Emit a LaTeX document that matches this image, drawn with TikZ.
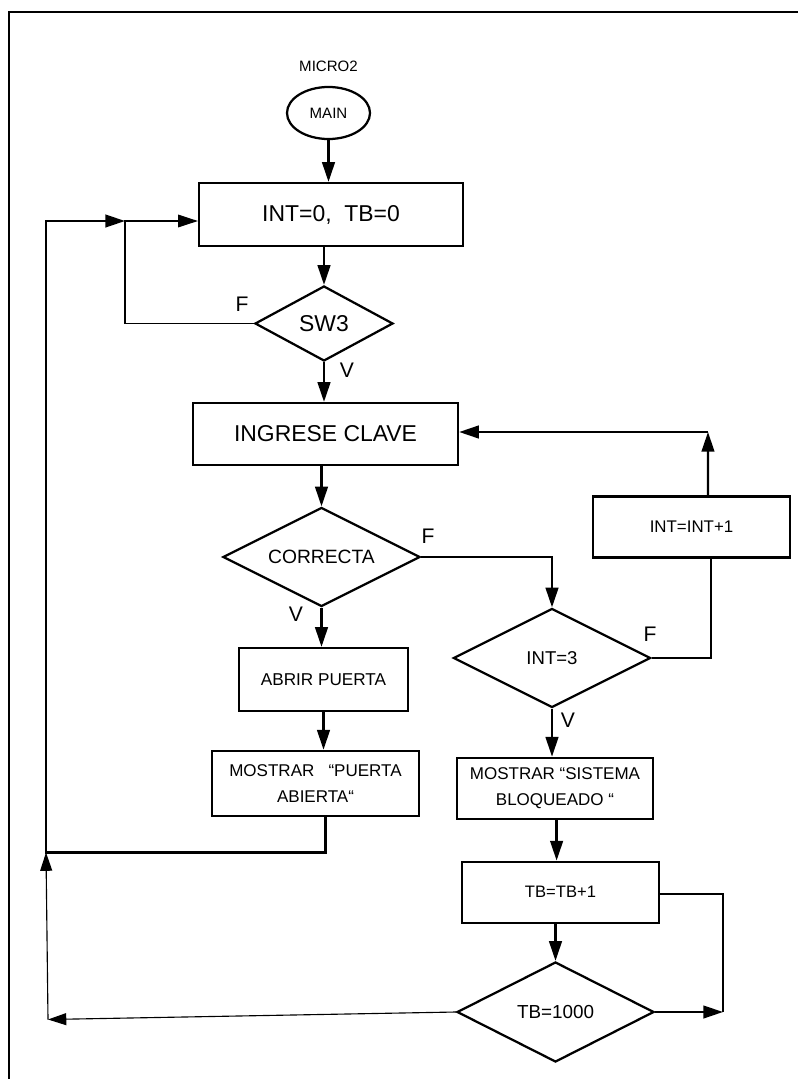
\documentclass[tikz,border=0pt]{standalone}
\usepackage{fontspec}
\setmainfont{Liberation Sans}
\usetikzlibrary{shapes.geometric}
\usetikzlibrary{arrows.meta}
\usetikzlibrary{positioning}

\begin{document}
\begin{tikzpicture}[x=0.025cm,y=-0.025cm,
  box/.style={draw,line width=1.6pt,rectangle,inner sep=0pt,align=center},
  decision/.style={draw,line width=1.6pt,diamond,aspect=2,inner sep=0pt},
  wire/.style={line width=1.6pt},
  flow/.style={line width=1.6pt,-{Triangle[length=14pt,width=9pt]}},
  thinflow/.style={line width=0.8pt,-{Triangle[length=13pt,width=8.5pt]}},
  tag/.style={inner sep=0pt,font=\fontsize{15}{18}\selectfont}]

\useasboundingbox (0,0) rectangle (798,1079);
\draw[line width=1.6pt] (9.3,1079) -- (9.3,12) -- (798,12);

% left column
\node[draw,line width=1.6pt,ellipse,inner sep=0pt,minimum width=2.075cm,minimum height=1.3cm,font=\fontsize{10.7}{13}\selectfont] (main) at (328.5,113) {MAIN};
\node[above=0.35cm of main,inner sep=0pt,font=\fontsize{10.7}{13}\selectfont] (micro) {MICRO2};
\node[box,minimum width=6.6cm,minimum height=1.575cm,font=\fontsize{16.3}{20}\selectfont] (init) at (331,214.5) {INT=0,\ \ TB=0};
\node[decision,minimum width=3.45cm,minimum height=1.875cm,font=\fontsize{16.3}{20}\selectfont] (sw3) at (324,323.5) {SW3};
\node[box,minimum width=6.625cm,minimum height=1.55cm,font=\fontsize{16.3}{20}\selectfont] (ingrese) at (325.5,434) {INGRESE CLAVE};
\node[decision,minimum width=4.925cm,minimum height=2.475cm,font=\fontsize{13.7}{16}\selectfont] (correcta) at (321.5,557) {CORRECTA};
\node[box,minimum width=4.225cm,minimum height=1.575cm,font=\fontsize{12.2}{15}\selectfont] (abrir) at (323.5,679.5) {ABRIR PUERTA};
\node[box,minimum width=5.175cm,minimum height=1.625cm,font=\fontsize{12.1}{18.3}\selectfont] (puerta) at (315.5,783.3) {MOSTRAR\ \ \ “PUERTA\\ABIERTA“};

% right column
\node[decision,minimum width=4.925cm,minimum height=2.475cm,font=\fontsize{13.2}{16}\selectfont] (int3) at (552,658) {INT=3};
\node[box,minimum width=4.925cm,minimum height=1.525cm,font=\fontsize{12}{15}\selectfont] (incr) at (691.5,527) {INT=INT+1};
\node[box,minimum width=4.9cm,minimum height=1.525cm,font=\fontsize{12.1}{18.3}\selectfont] (bloq) at (555,788.3) {MOSTRAR “SISTEMA\\BLOQUEADO “};
\node[box,minimum width=4.925cm,minimum height=1.525cm,font=\fontsize{11.8}{15}\selectfont] (tbinc) at (560.5,892.2) {TB=TB+1};
\node[decision,minimum width=4.925cm,minimum height=2.5cm,font=\fontsize{13.4}{16}\selectfont] (tbend) at (555.5,1012) {TB=1000};

% branch labels
\node[tag] (fsw) at (242,304) {F};
\node[tag] (vsw) at (347,370) {V};
\node[tag] (fcor) at (428,536) {F};
\node[tag] (vcor) at (296,614) {V};
\node[tag] (fint) at (650,634) {F};
\node[tag] (vint) at (568,720) {V};

\coordinate (loopin) at (125,221);
\coordinate (back) at (46,852.5);
\coordinate (upturn) at (708,432);
\coordinate (rloop) at (723,1012);
\coordinate (lcorner) at (48,1019.5);

\draw[flow] (main.south) -- (main.south |- init.north);
\draw[flow] (sw3.north |- init.south) -- (sw3.north);
\draw[line width=0.8pt,-{Triangle[length=14pt,width=9pt]}] (sw3.west) -| (loopin) -- (loopin -| init.west);
\draw[flow] (sw3.south) -- (sw3.south |- ingrese.north);
\draw[flow] (correcta.north |- ingrese.south) -- (correcta.north);
\draw[flow] (correcta.south) -- (correcta.south |- abrir.north);
\draw[flow] (abrir.south) -- (abrir.south |- puerta.north);
\draw[flow] ([xshift=0.25cm]puerta.south) |- (back) |- (loopin);

\draw[flow] (correcta.east) -| (int3.north);
\draw[wire] (int3.east) -| ([xshift=0.49cm]incr.south);
\draw[flow] ([xshift=0.41cm]incr.north) -- (upturn);
\draw[flow] (upturn) -- (upturn -| ingrese.east);
\draw[flow] (int3.south) -- (int3.south |- bloq.north);
\draw[flow] ([xshift=0.04cm]bloq.south) -- ([xshift=0.04cm]bloq.south |- tbinc.north);
\draw[flow] (tbend.north |- tbinc.south) -- (tbend.north);
\draw[flow] (tbend.east) -- (rloop);
\draw[wire] (rloop) |- ([yshift=-0.05cm]tbinc.east);
\draw[thinflow] (tbend.west) -- (lcorner);
\draw[thinflow] (lcorner) -- (back);

\end{tikzpicture}
\end{document}
